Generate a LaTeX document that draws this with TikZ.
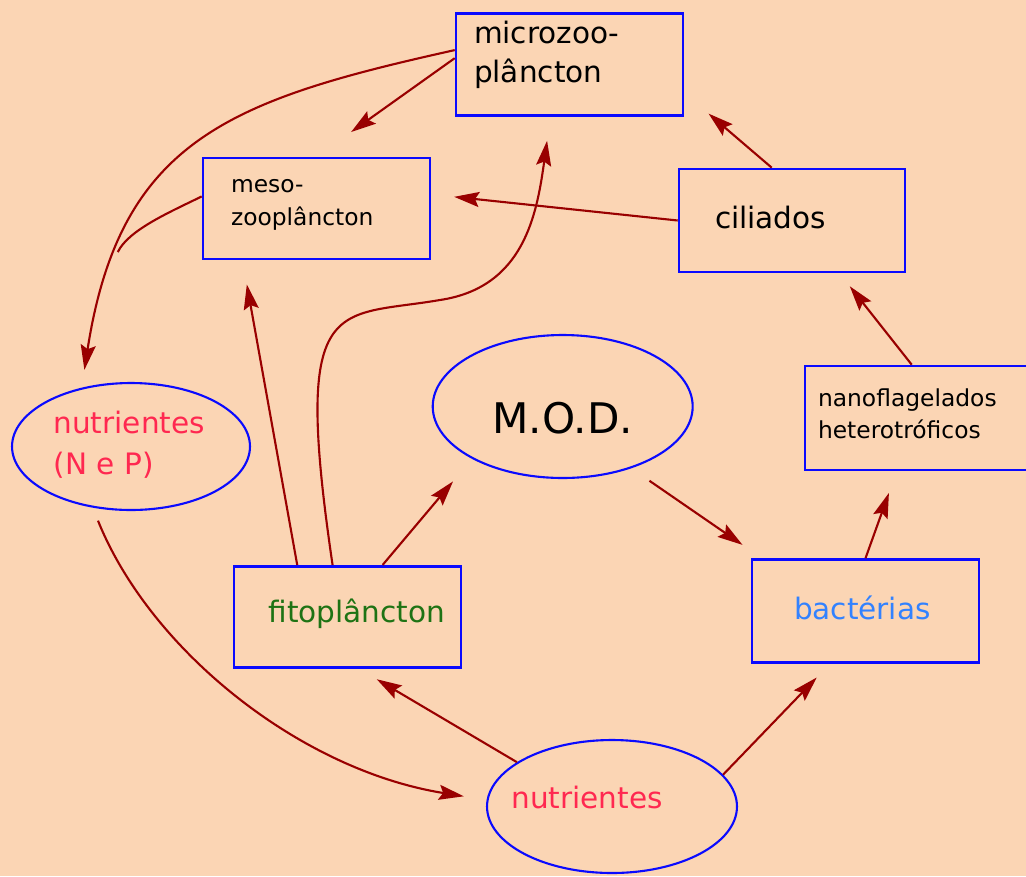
\documentclass[tikz,border=0pt]{standalone}
\usepackage{fontspec}
\setmainfont{DejaVu Sans}
\usetikzlibrary{arrows.meta, shapes.geometric}
\definecolor{peach}{RGB}{251,213,180}
\definecolor{flow}{RGB}{153,0,0}
\definecolor{nutrred}{RGB}{255,40,80}
\definecolor{fitogreen}{RGB}{30,115,20}
\definecolor{bactblue}{RGB}{50,130,255}
\definecolor{edgeblue}{RGB}{10,10,255}

\begin{document}
\begin{tikzpicture}[x=0.02cm, y=-0.02cm,
    cellbox/.style={draw=edgeblue, line width=1.5pt, rectangle, inner sep=0pt, align=left, minimum width=\boxw},
    oval/.style={draw=edgeblue, line width=1.2pt, ellipse, inner sep=0pt, text=nutrred},
    bigtxt/.style={font=\fontsize{16.8}{22.1}\selectfont},
    smalltxt/.style={font=\fontsize{13.3}{19.3}\selectfont},
    flowline/.style={draw=flow, line width=1.2pt},
    arr/.style={flowline, -{Stealth[length=0.5cm, width=0.3cm, inset=0.08cm]}}]
      \def\boxw{4.54cm}% most boxes are 227px wide
      \def\W{1026}
      \def\H{876}
      % -------------------------------------------- background
      \fill[peach] (0,0) rectangle (\W,\H);
      \useasboundingbox (0,0) rectangle (\W,\H);
      % -------------------------------------------- boxes
      % set the nodes
      \node[cellbox, bigtxt, minimum height=2.04cm, text width=3.82cm, text height=0.6cm, text depth=1.44cm] at (569.5,64.2) (micro) {microzoo-\\plâncton};
      \node[cellbox, smalltxt, minimum height=2.02cm, text width=3.42cm, text height=0.68cm, text depth=1.34cm] at (316.5,208.5) (meso) {meso-\\zooplâncton};
      \node[cellbox, bigtxt, minimum width=4.52cm, minimum height=2.06cm, text width=3.08cm, text height=1.18cm, text depth=0.88cm] at (792,220.5) (cil) {ciliados};
      \node[cellbox, font=\fontsize{13.3}{18.1}\selectfont, minimum width=4.8cm, minimum height=2.08cm, text width=4.28cm, text height=0.81cm, text depth=1.27cm] at (925,418) (nano) {nanoflagelados\\heterotróficos};
      \node[cellbox, bigtxt, text=fitogreen, align=right, minimum height=2.03cm, text width=3.9cm, text height=1.13cm, text depth=0.9cm] at (347.5,617) (fito) {fitoplâncton};
      \node[cellbox, bigtxt, text=bactblue, minimum height=2.06cm, text width=2.86cm, text height=1.2cm, text depth=0.86cm] at (865.5,611) (bact) {bactérias};
      % -------------------------------------------- ellipses
      \node[oval, font=\fontsize{16.8}{23.8}\selectfont, align=left, minimum width=4.76cm, minimum height=2.54cm, text width=3.1cm, text height=0.4cm, text depth=0.94cm] at (131,446.5) (nutr1) {nutrientes\\(N e P)};
      \node[oval, font=\fontsize{24}{29}\selectfont, text=black, minimum width=5.2cm, minimum height=2.86cm, text height=1.06cm, text depth=0cm] at (562.7,406.5) (mod) {M.O.D.};
      \node[oval, bigtxt, minimum width=5cm, minimum height=2.66cm, text height=0.44cm, text depth=0.38cm] at (612,806.5) (nutr2) {\hspace*{-1cm}nutrientes};
      % -------------------------------------------- edges
      % excretion back to nutrients
      \draw[arr, shorten >=0.36cm] (micro.173) .. controls (230,100) and (120,140) .. (nutr1.130) coordinate[pos=0.78] (merge);
      \draw[flowline] (meso.174) .. controls (170,212) and (128.3,230) .. (merge);
      \draw[arr, shorten <=0.28cm, shorten >=0.46cm] (nutr1.-122) .. controls (150,650) and (300,770) .. (nutr2.177);
      % grazing
      \draw[arr, shorten >=0.85cm] (micro.177) -- (meso.north);
      \draw[arr, shorten >=0.46cm] (cil.west) -- (meso.7);
      \draw[arr, shorten >=0.64cm] (cil.111) -- (micro.-14);
      \draw[arr, shorten >=0.33cm] (nano.104) -- (cil.-48);
      \draw[arr, shorten >=0.46cm] (bact.north) -- (nano.-118);
      \draw[arr, shorten >=0.49cm] (fito.134) -- (meso.-145);
      \draw[arr, shorten >=0.49cm] (fito.106) .. controls (292,290) and (335,318) .. (440,300) .. controls (524,287.4) and (536.8,214.6) .. (micro.-110);
      % uptake and release
      \draw[arr, shorten >=0.59cm] (fito.56) -- (mod.210);
      \draw[arr, shorten <=0.44cm, shorten >=0.47cm] (mod.-42) -- (bact.153);
      \draw[arr, shorten >=0.38cm] (nutr2.16) -- (bact.-124);
      \draw[arr, shorten >=0.4cm] (nutr2.155) -- (fito.-77);
    \end{tikzpicture}
\end{document}
